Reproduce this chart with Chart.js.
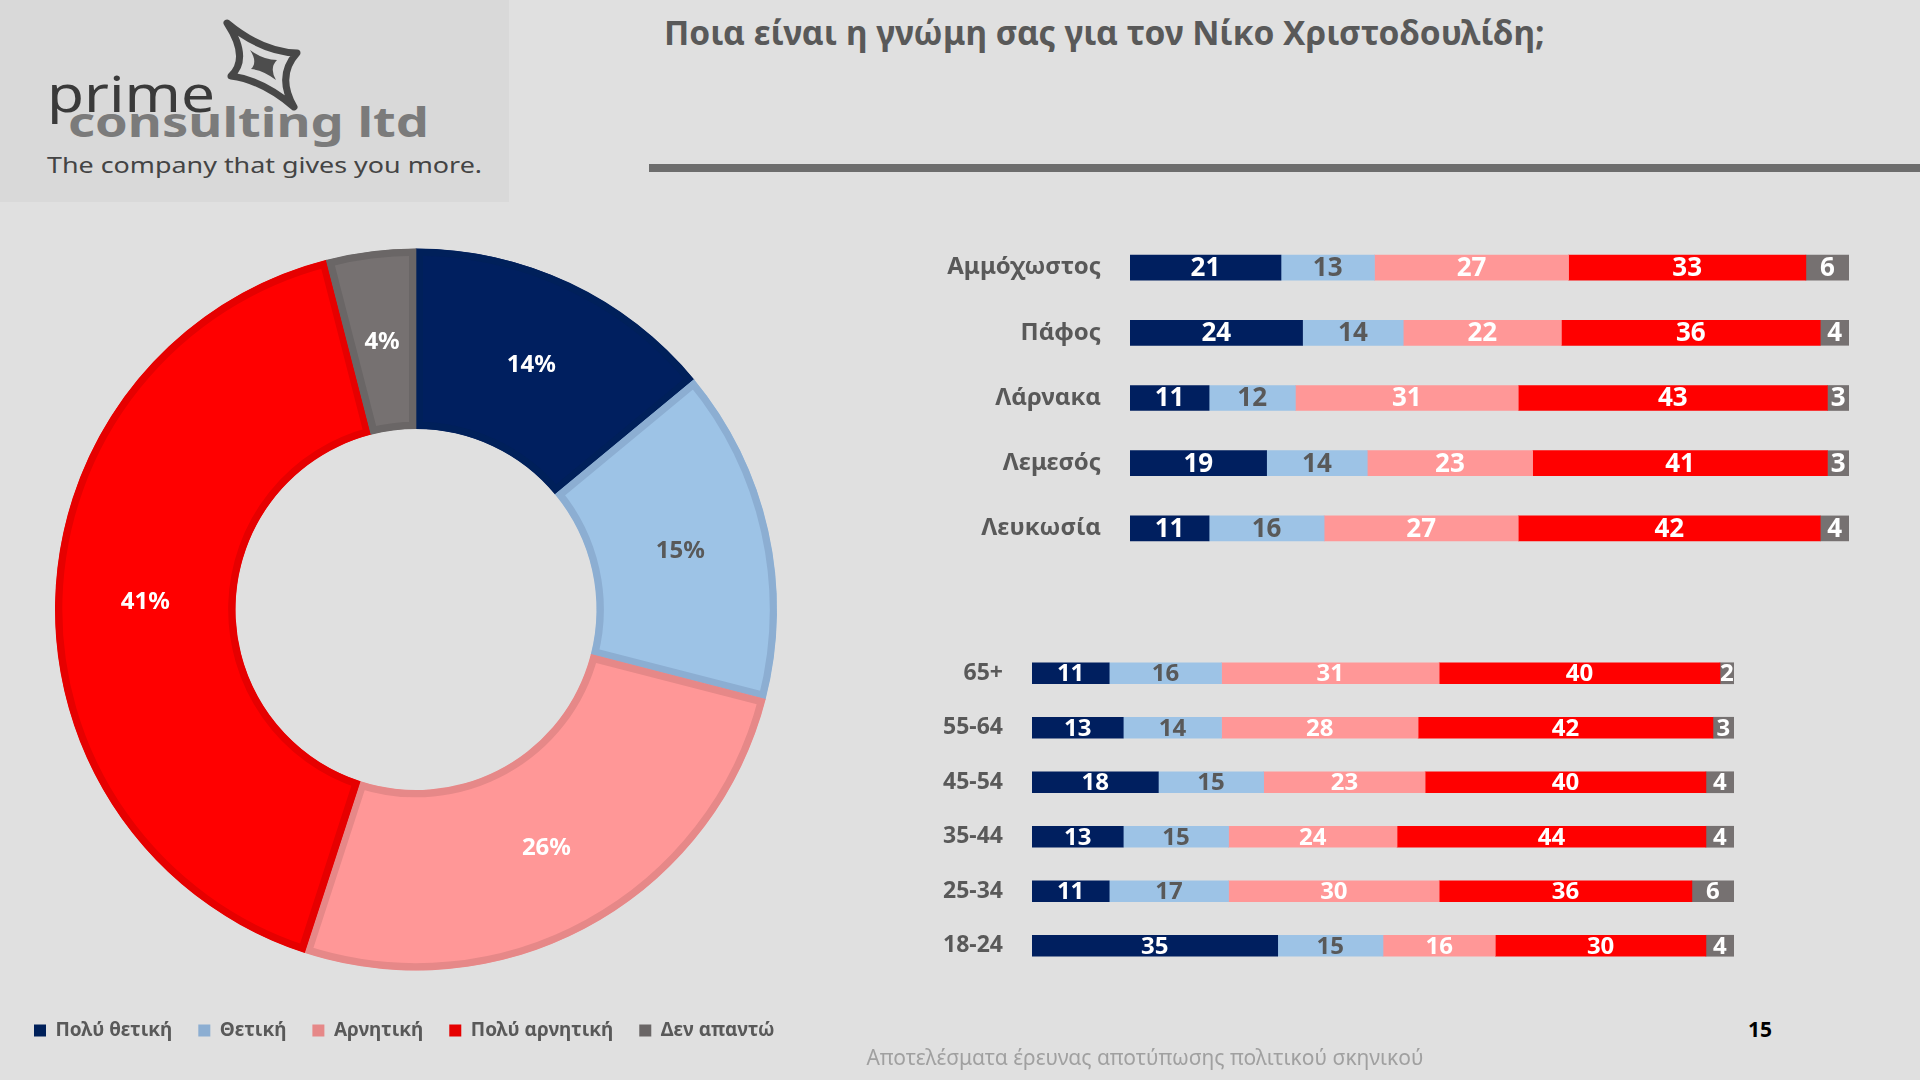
<!DOCTYPE html>
<html>
<head>
<meta charset="utf-8">
<script src="https://cdn.jsdelivr.net/npm/chart.js@4.4.1/dist/chart.umd.min.js"></script>
<style>
    body { margin: 0; width: 1920px; height: 1080px; background: #e0e0e0; position: relative; overflow: hidden; font-family: "Noto Sans", sans-serif; }
    .box { position: absolute; }
    #logo { left: 0; top: 0; width: 509px; height: 202px; background: #d9d9d9; }
    #title { left: 664px; top: 9px; font-size: 33.5px; font-weight: bold; color: #595959; white-space: nowrap; }
    #rule { left: 649px; top: 164px; width: 1271px; height: 8px; background: #6d6d6d; }
    #foot { left: 0; width: 2290px; top: 1043px; text-align: center; font-size: 21px; color: #a0a0a0; }
    #page { left: 1748px; top: 1015px; font-size: 21px; font-weight: bold; color: #000; }
</style>
</head>
<body>

<div id="logo" class="box">
    <svg width="509" height="202" style="position:absolute;left:0;top:0" font-family="'Noto Sans', sans-serif">
        <path d="M227,23 Q262,52 297,53 Q276,76 294,107 Q262,80 231,76 Q250,58 227,23 Z" fill="none" stroke="#474747" stroke-width="7" stroke-linejoin="round"/>
        <path d="M250,50 Q263,60 277,60 Q269,68 276,80 Q263,70 251,69 Q258,62 250,50 Z" fill="#4d4d4d"/>
        <text x="47" y="112" font-size="50" fill="#3a3a3a" textLength="168" lengthAdjust="spacingAndGlyphs">prime</text>
        <text x="68" y="137" font-size="41" font-weight="bold" fill="#7b7b7b" textLength="361" lengthAdjust="spacingAndGlyphs">consulting ltd</text>
        <text x="47" y="173" font-size="22" fill="#444" textLength="435" lengthAdjust="spacingAndGlyphs">The company that gives you more.</text>
    </svg>
</div>

<div id="title" class="box">Ποια είναι η γνώμη σας για τον Νίκο Χριστοδουλίδη;</div>
<div id="rule" class="box"></div>

<div class="box" style="left:8px;top:224px;width:816px;height:826px"><canvas id="donut"></canvas></div>
<div class="box" style="left:900px;top:235px;width:949px;height:326px"><canvas id="regions"></canvas></div>
<div class="box" style="left:802px;top:646px;width:932px;height:327px"><canvas id="ages"></canvas></div>

<div id="foot" class="box">Αποτελέσματα έρευνας αποτύπωσης πολιτικού σκηνικού</div>
<div id="page" class="box">15</div>

<script>
const answers = ["Πολύ θετική", "Θετική", "Αρνητική", "Πολύ αρνητική", "Δεν απαντώ"];
const total_values = [14, 15, 26, 41, 4];

const regions = ["Αμμόχωστος", "Πάφος", "Λάρνακα", "Λεμεσός", "Λευκωσία"];
const reg_very_pos = [21, 24, 11, 19, 11];
const reg_pos = [13, 14, 12, 14, 16];
const reg_neg = [27, 22, 31, 23, 27];
const reg_very_neg = [33, 36, 43, 41, 42];
const reg_no_ans = [6, 4, 3, 3, 4];

const ages = ["65+", "55-64", "45-54", "35-44", "25-34", "18-24"];
const age_very_pos = [11, 13, 18, 13, 11, 35];
const age_pos = [16, 14, 15, 15, 17, 15];
const age_neg = [31, 28, 23, 24, 30, 16];
const age_very_neg = [40, 42, 40, 44, 36, 30];
const age_no_ans = [2, 3, 4, 4, 6, 4];

const fills = ["#001f5f", "#9dc3e6", "#ff9797", "#ff0000", "#767171"];
const edges = ["#00205a", "#8caed2", "#e68888", "#e60000", "#6a6666"];
const label_colors = ["#ffffff", "#595959", "#ffffff", "#ffffff", "#ffffff"];

const font_family = "'Noto Sans', sans-serif";

// values written in the middle of each slice / segment
const value_labels = {
    id: 'value_labels',
    afterDatasetsDraw(chart, args, opts) {
        const ctx = chart.ctx;
        const is_pie = chart.config.type === 'doughnut';
        ctx.save();
        ctx.font = "bold " + opts.size + "px " + font_family;
        ctx.textAlign = 'center';
        ctx.textBaseline = 'middle';
        chart.data.datasets.forEach((ds, di) => {
            chart.getDatasetMeta(di).data.forEach((el, i) => {
                const p = is_pie ? el.tooltipPosition() : el.getCenterPoint();
                ctx.fillStyle = label_colors[is_pie ? i : di];
                ctx.fillText(ds.data[i] + opts.suffix, p.x, p.y + 1);
            });
        });
        ctx.restore();
    }
};

Chart.defaults.animation = false;
Chart.defaults.font.family = font_family;

new Chart(document.getElementById("donut"), {
    type: 'doughnut',
    data: {
        labels: answers,
        datasets: [{
            data: total_values,
            backgroundColor: fills,
            borderColor: edges,
            borderWidth: 7,
            borderAlign: 'inner',
            radius: 361
        }]
    },
    options: {
        responsive: true,
        maintainAspectRatio: false,
        cutout: '50%',
        plugins: {
            tooltip: { enabled: false },
            legend: {
                position: 'bottom',
                align: 'start',
                labels: {
                    boxWidth: 12,
                    boxHeight: 12,
                    padding: 26,
                    color: '#595959',
                    font: { size: 19, weight: 'bold' },
                    generateLabels: chart => chart.data.labels.map((t, i) => ({
                        text: t,
                        fillStyle: edges[i],
                        strokeStyle: edges[i],
                        lineWidth: 0,
                        fontColor: '#595959',
                        hidden: false,
                        index: i
                    }))
                }
            },
            value_labels: { size: 24, suffix: '%' }
        }
    },
    plugins: [value_labels]
});

function stacked_bar(id, cats, series, thickness, tick_size, value_size) {
    return new Chart(document.getElementById(id), {
        type: 'bar',
        data: {
            labels: cats,
            datasets: series.map((vals, i) => ({
                label: answers[i],
                data: vals,
                backgroundColor: fills[i],
                borderWidth: 0,
                barThickness: thickness
            }))
        },
        options: {
            indexAxis: 'y',
            responsive: true,
            maintainAspectRatio: false,
            layout: { padding: 0 },
            scales: {
                x: { stacked: true, min: 0, max: 100, display: false },
                y: {
                    stacked: true,
                    grid: { display: false },
                    border: { display: false },
                    ticks: { color: '#595959', padding: 21, font: { size: tick_size, weight: 'bold' } },
                    afterFit: axis => {
                        axis.width = 230;
                        axis.paddingTop = 0;
                        axis.paddingBottom = 0;
                    }
                }
            },
            plugins: {
                legend: { display: false },
                tooltip: { enabled: false },
                value_labels: { size: value_size, suffix: '' }
            }
        },
        plugins: [value_labels]
    });
}

stacked_bar("regions", regions, [reg_very_pos, reg_pos, reg_neg, reg_very_neg, reg_no_ans], 25, 24, 26);
stacked_bar("ages", ages, [age_very_pos, age_pos, age_neg, age_very_neg, age_no_ans], 21, 23, 24);
</script>
</body>
</html>
